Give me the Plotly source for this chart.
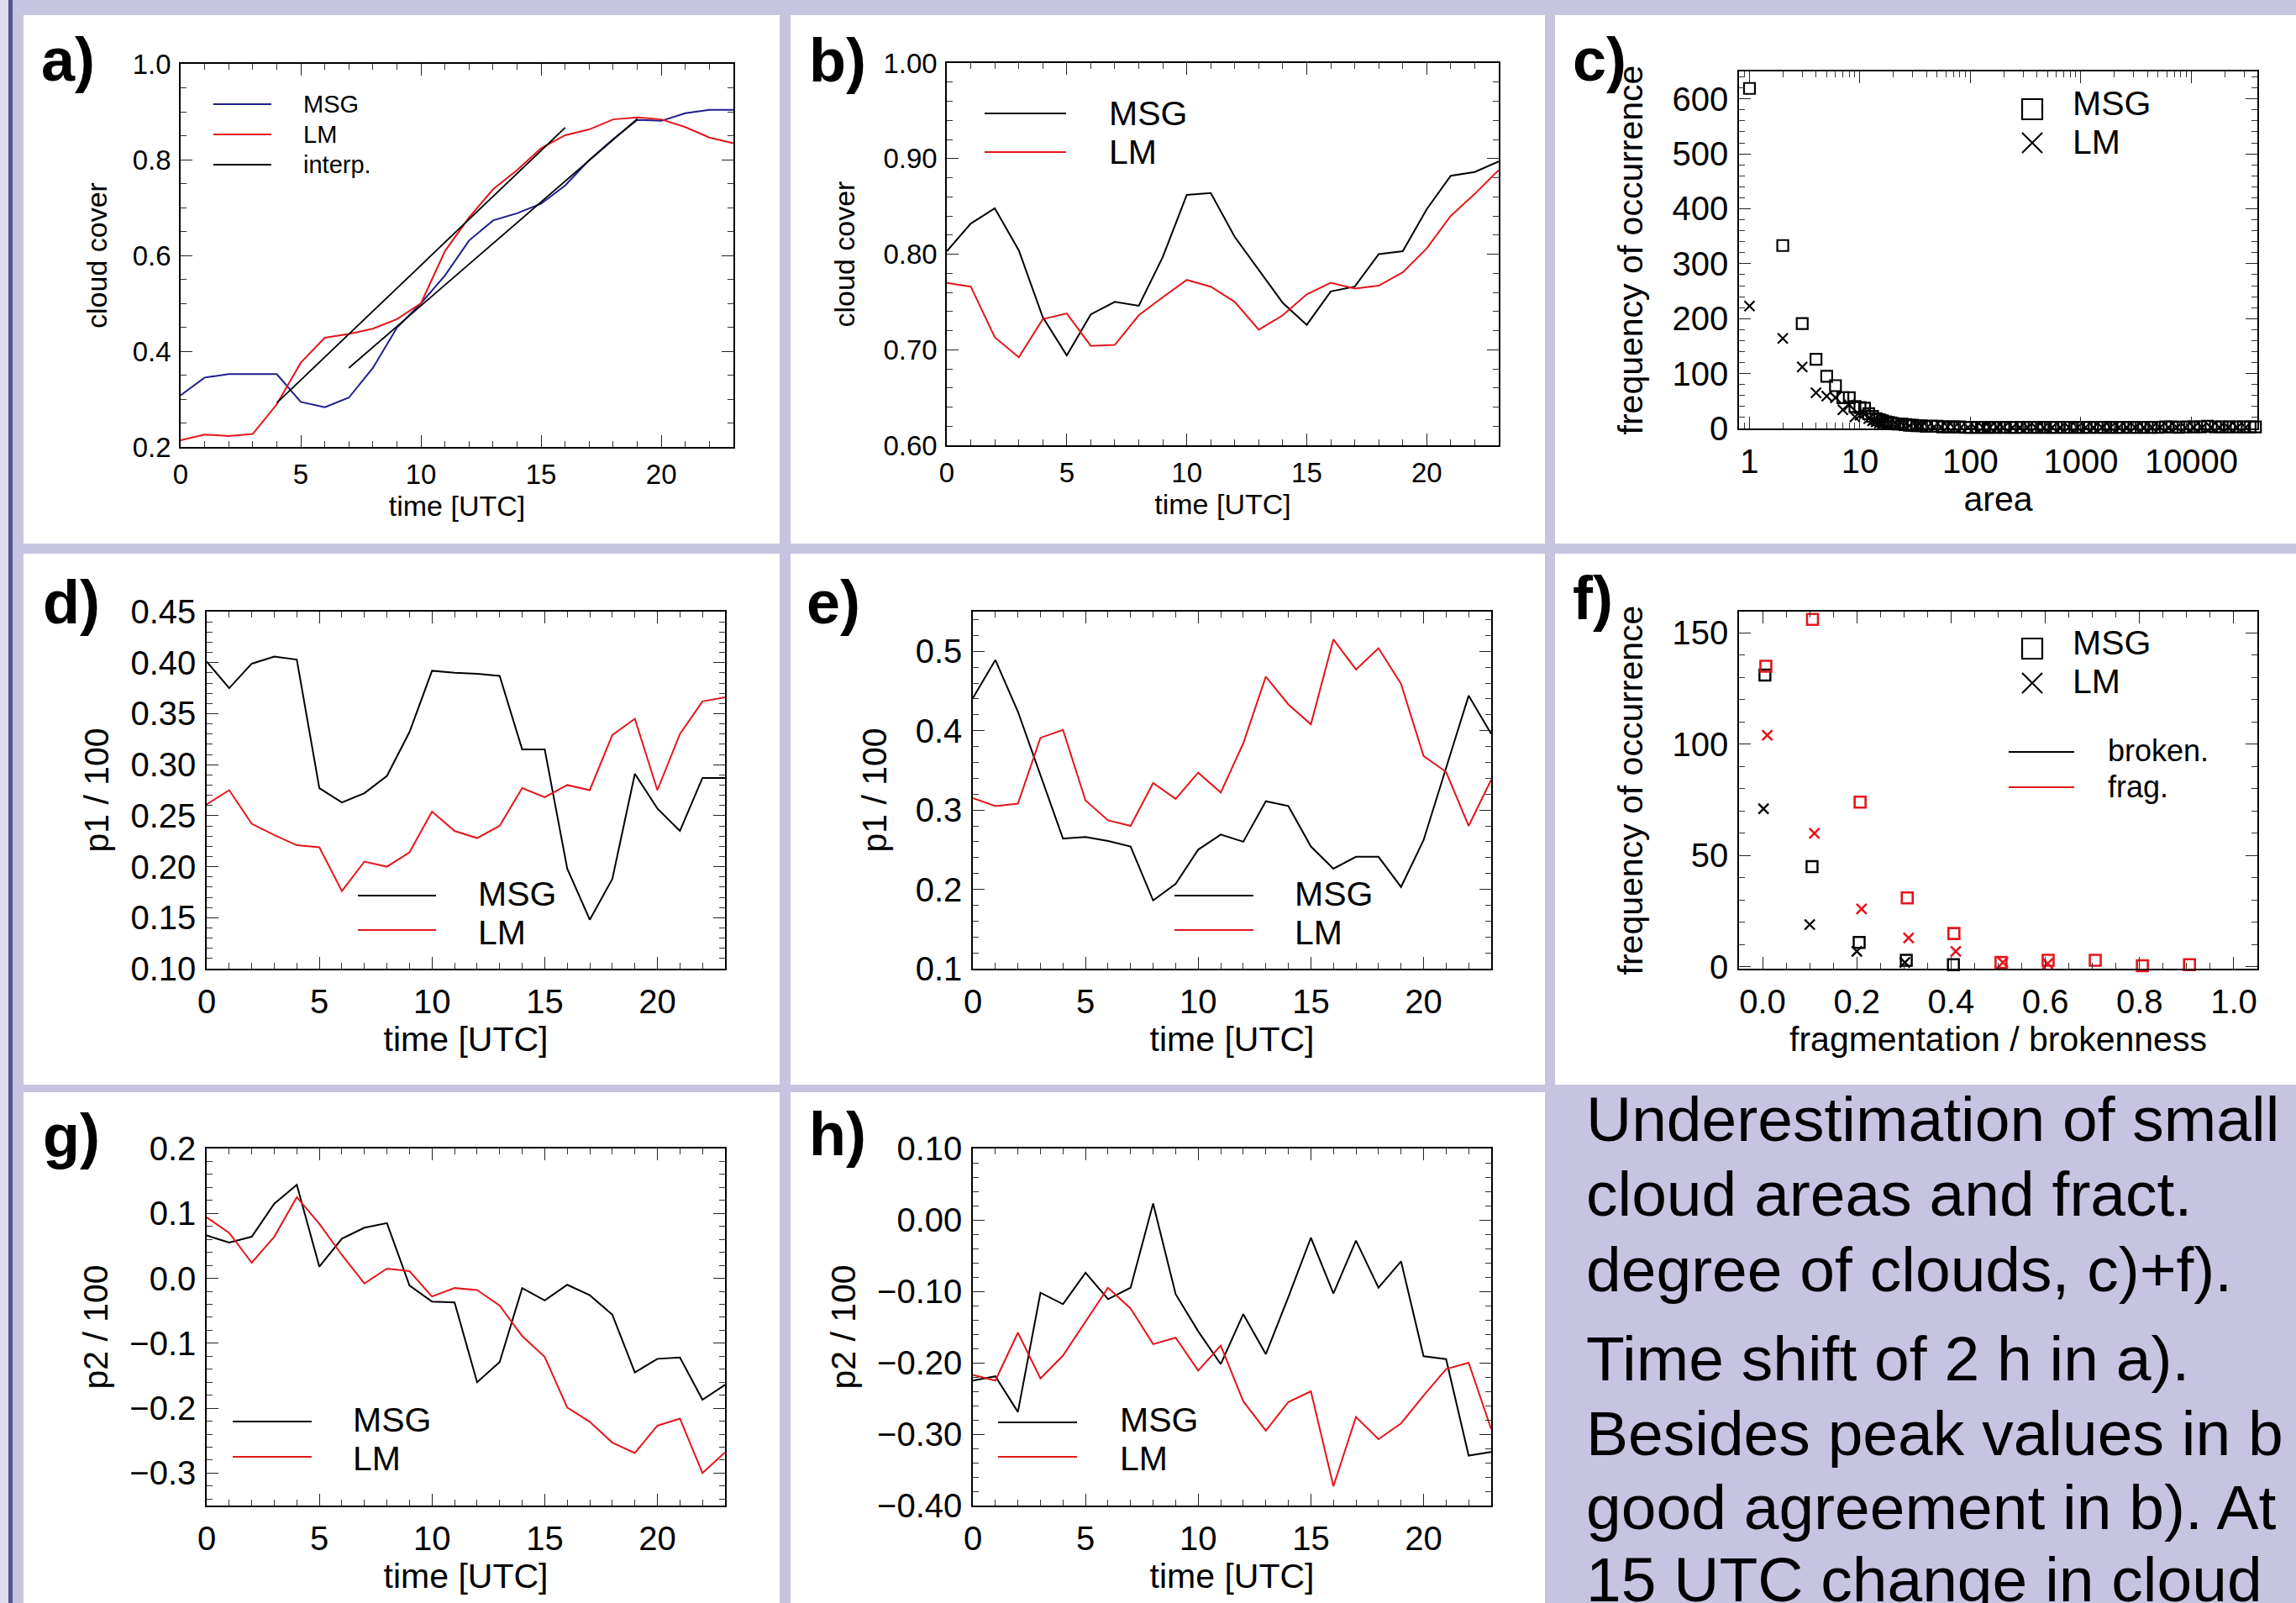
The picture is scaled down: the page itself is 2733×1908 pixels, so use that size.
import plotly.graph_objects as go

W, H = 2733, 1908
BG = "#C7C4E2"
RED = "#E3161B"
NAVY = "#1E1E8C"
FONT = "Liberation Sans, Arial, Helvetica, sans-serif"

# ---------------- data ----------------
HOURS = [0, 1, 2, 3, 4, 5, 6, 7, 8, 9, 10, 11, 12, 13, 14, 15, 16, 17, 18, 19, 20, 21, 22, 23]

A_MSG = [0.308, 0.345, 0.352, 0.352, 0.352, 0.294, 0.283, 0.303, 0.365, 0.449, 0.500, 0.558,
         0.631, 0.673, 0.688, 0.708, 0.746, 0.799, 0.843, 0.883, 0.881, 0.897, 0.904, 0.904]
A_LM = [0.214, 0.226, 0.223, 0.227, 0.289, 0.376, 0.428, 0.436, 0.447, 0.467, 0.500, 0.609,
        0.679, 0.738, 0.778, 0.824, 0.851, 0.863, 0.884, 0.888, 0.884, 0.868, 0.846, 0.834]
A_INTERP1_X = [4, 16]
A_INTERP1_Y = [0.292, 0.867]
A_INTERP2_X = [7, 19]
A_INTERP2_Y = [0.365, 0.885]

B_MSG = [0.803, 0.832, 0.848, 0.804, 0.734, 0.694, 0.737, 0.750, 0.746, 0.797, 0.862, 0.864,
         0.818, 0.783, 0.749, 0.726, 0.761, 0.766, 0.800, 0.803, 0.847, 0.882, 0.886, 0.897]
B_LM = [0.770, 0.766, 0.713, 0.692, 0.732, 0.738, 0.704, 0.705, 0.736, 0.755, 0.773, 0.766,
        0.750, 0.721, 0.736, 0.758, 0.770, 0.764, 0.767, 0.781, 0.806, 0.840, 0.863, 0.888]

C_MSG_AREA = [1, 2, 3, 4, 5, 6, 7, 8, 9, 10, 11, 12, 13, 14, 15, 16, 17, 18, 19, 20, 22, 24, 26,
              28, 30, 33, 36, 40, 45, 50, 56, 63, 70, 80, 90, 100, 115, 130, 150, 170, 200, 230,
              260, 300, 350, 400, 460, 530, 600, 700, 800, 920, 1050, 1200, 1400, 1600, 1850,
              2100, 2400, 2800, 3200, 3700, 4300, 5000, 5800, 6700, 7700, 9000, 10500, 12000,
              14000, 16500, 19000, 22000, 25500, 29500, 34000, 38000]
C_MSG_FREQ = [619, 333, 191, 126, 95, 78, 56, 56, 40, 38, 37, 27, 22, 18, 16, 14, 12, 11, 10, 9,
              8, 8, 7, 6, 6, 5, 5, 4, 4, 4, 3, 3, 3, 3, 2, 2, 2, 2, 2, 2, 2, 2, 2, 2, 2, 2, 2, 2,
              2, 2, 2, 2, 2, 2, 2, 2, 2, 2, 2, 2, 2, 2, 2, 2, 3, 3, 2, 3, 3, 3, 4, 3, 3, 3, 3,
              3, 3, 3]
C_LM_AREA = [1, 2, 3, 4, 5, 6, 7, 8, 9, 10, 11, 12, 13, 14, 15, 16, 18, 20, 22, 25, 28, 32, 36,
             41, 47, 54, 62, 71, 82, 95, 110, 130, 150, 175, 200, 240, 280, 330, 390, 460, 550,
             650, 780, 930, 1100, 1300, 1550, 1850, 2200, 2600, 3100, 3700, 4400, 5200, 6200,
             7400, 8800, 10500, 12500, 15000, 18000, 21500, 26000, 31000]
C_LM_FREQ = [223, 164, 112, 65, 59, 56, 34, 43, 21, 24, 27, 18, 14, 12, 10, 9, 8, 7, 6, 5, 5, 4,
             4, 3, 3, 3, 3, 2, 2, 2, 2, 2, 2, 2, 2, 2, 2, 2, 2, 2, 2, 2, 2, 2, 2, 2, 2, 2, 2, 2,
             2, 2, 2, 2, 2, 2, 2, 2, 2, 2, 2, 2, 2, 2]

D_MSG = [0.401, 0.375, 0.399, 0.406, 0.403, 0.277, 0.263, 0.272, 0.289, 0.332, 0.392, 0.390,
         0.389, 0.387, 0.315, 0.315, 0.198, 0.148, 0.188, 0.291, 0.257, 0.235, 0.287, 0.287]
D_LM = [0.261, 0.275, 0.242, 0.231, 0.221, 0.219, 0.176, 0.205, 0.200, 0.214, 0.254, 0.235,
        0.228, 0.240, 0.277, 0.268, 0.280, 0.275, 0.329, 0.345, 0.275, 0.330, 0.362, 0.366]

E_MSG = [0.441, 0.489, 0.424, 0.344, 0.264, 0.266, 0.261, 0.254, 0.186, 0.207, 0.250, 0.269,
         0.260, 0.311, 0.305, 0.254, 0.226, 0.241, 0.241, 0.203, 0.262, 0.353, 0.444, 0.396]
E_LM = [0.315, 0.305, 0.308, 0.391, 0.401, 0.312, 0.287, 0.280, 0.334, 0.314, 0.347, 0.322,
        0.384, 0.468, 0.433, 0.408, 0.515, 0.477, 0.504, 0.459, 0.368, 0.348, 0.280, 0.338]

F_MSG_BROKEN_X = [0.005, 0.105, 0.205, 0.305, 0.405]
F_MSG_BROKEN_Y = [131, 45, 11, 3, 1]
F_LM_BROKEN_X = [0.002, 0.100, 0.200, 0.302]
F_LM_BROKEN_Y = [71, 19, 7, 2]
F_MSG_FRAG_X = [0.007, 0.106, 0.207, 0.307, 0.406, 0.506, 0.606, 0.706, 0.806, 0.906]
F_MSG_FRAG_Y = [135, 156, 74, 31, 15, 2, 3, 3, 0.5, 1]
F_LM_FRAG_X = [0.010, 0.110, 0.210, 0.310, 0.410, 0.510, 0.605]
F_LM_FRAG_Y = [104, 60, 26, 13, 7, 2, 1.5]

G_MSG = [0.066, 0.055, 0.064, 0.115, 0.144, 0.018, 0.061, 0.078, 0.085, -0.011, -0.036, -0.037,
         -0.160, -0.129, -0.015, -0.034, -0.010, -0.026, -0.056, -0.145, -0.124, -0.122, -0.187, -0.164]
G_LM = [0.094, 0.070, 0.024, 0.064, 0.125, 0.084, 0.036, -0.008, 0.015, 0.011, -0.028, -0.015,
        -0.018, -0.042, -0.089, -0.121, -0.199, -0.221, -0.253, -0.269, -0.227, -0.216, -0.300, -0.268]

H_MSG = [-0.225, -0.219, -0.269, -0.102, -0.118, -0.074, -0.111, -0.095, 0.023, -0.104, -0.156, -0.202,
         -0.132, -0.188, -0.108, -0.025, -0.103, -0.029, -0.095, -0.058, -0.191, -0.195, -0.330, -0.325]
H_LM = [-0.217, -0.225, -0.158, -0.222, -0.190, -0.142, -0.095, -0.124, -0.174, -0.165, -0.211, -0.176,
        -0.254, -0.295, -0.255, -0.240, -0.373, -0.276, -0.307, -0.285, -0.246, -0.209, -0.200, -0.293]

TEXT_LINES = ["Underestimation of small", "cloud areas and fract.", "degree of clouds, c)+f).",
              "Time shift of 2 h in a).", "Besides peak values in b", "good agreement in b). At",
              "15 UTC change in cloud"]

# ---------------- layout helpers (pixel -> paper) ----------------
def px(x):
    return x / W


def py(y):
    return 1 - y / H


# plot-area frames in pixels: (x0, x1, ytop, ybottom)
FRAMES = {
    "a": (215, 873, 76, 532), "b": (1127, 1784, 75, 530), "c": (2070, 2687, 85, 510),
    "d": (246, 863, 728, 1153), "e": (1158, 1775, 728, 1153), "f": (2070, 2687, 728, 1153),
    "g": (246, 863, 1367, 1792), "h": (1158, 1775, 1367, 1792),
}
ORDER = ["a", "b", "c", "d", "e", "f", "g", "h"]

fig = go.Figure()


def ax_ids(key):
    n = ORDER.index(key) + 1
    return ("x" if n == 1 else f"x{n}"), ("y" if n == 1 else f"y{n}")


def add_line(key, x, y, color, width=2.0):
    xa, ya = ax_ids(key)
    fig.add_trace(go.Scatter(x=x, y=y, mode="lines", line=dict(color=color, width=width),
                             xaxis=xa, yaxis=ya, showlegend=False, hoverinfo="skip"))


def add_markers(key, x, y, symbol, color, size, lw):
    xa, ya = ax_ids(key)
    fig.add_trace(go.Scatter(x=x, y=y, mode="markers",
                             marker=dict(symbol=symbol, size=size, color=color,
                                         line=dict(color=color, width=lw)),
                             xaxis=xa, yaxis=ya, showlegend=False, hoverinfo="skip",
                             cliponaxis=False))


add_line("a", HOURS, A_MSG, NAVY)
add_line("a", HOURS, A_LM, RED)
add_line("a", A_INTERP1_X, A_INTERP1_Y, "black", 1.8)
add_line("a", A_INTERP2_X, A_INTERP2_Y, "black", 1.8)
add_line("b", HOURS, B_MSG, "black")
add_line("b", HOURS, B_LM, RED)
add_markers("c", C_MSG_AREA, C_MSG_FREQ, "square-open", "black", 13, 2.2)
add_markers("c", C_LM_AREA, C_LM_FREQ, "x-thin", "black", 12, 2.2)
add_line("d", HOURS, D_MSG, "black")
add_line("d", HOURS, D_LM, RED)
add_line("e", HOURS, E_MSG, "black")
add_line("e", HOURS, E_LM, RED)
add_markers("f", F_MSG_BROKEN_X, F_MSG_BROKEN_Y, "square-open", "black", 13, 2.4)
add_markers("f", F_LM_BROKEN_X, F_LM_BROKEN_Y, "x-thin", "black", 12, 2.4)
add_markers("f", F_MSG_FRAG_X, F_MSG_FRAG_Y, "square-open", RED, 13, 2.6)
add_markers("f", F_LM_FRAG_X, F_LM_FRAG_Y, "x-thin", RED, 12, 2.6)
add_line("g", HOURS, G_MSG, "black")
add_line("g", HOURS, G_LM, RED)
add_line("h", HOURS, H_MSG, "black")
add_line("h", HOURS, H_LM, RED)


def minor_style():
    return dict(ticks="inside", ticklen=7, tickwidth=1.1, tickcolor="#333333", showgrid=False)


def base_axis(fs):
    return dict(showline=True, linecolor="black", linewidth=1.5, mirror="allticks",
                ticks="inside", ticklen=14, tickwidth=1.3, tickcolor="#222222",
                showgrid=False, zeroline=False, ticklabelstandoff=3, automargin=False,
                tickfont=dict(size=fs, color="black", family=FONT),
                minor=minor_style())


AXES = {
    "a": dict(x=dict(range=[0, 23], dtick=5, minor_dtick=1, title="time [UTC]"),
              y=dict(range=[0.2, 1.0], dtick=0.2, minor_dtick=0.05, fmt=".1f", title="cloud cover"),
              fs=33, tfs=34, xs=6, ys=20),
    "b": dict(x=dict(range=[0, 23], dtick=5, minor_dtick=1, title="time [UTC]"),
              y=dict(range=[0.6, 1.0], dtick=0.1, minor_dtick=0.02, fmt=".2f", title="cloud cover"),
              fs=33, tfs=34, xs=6, ys=24),
    "c": dict(x=dict(range=[-0.095, 4.597], title="area", log=True),
              y=dict(range=[0, 650], dtick=100, minor_dtick=20, fmt="d", title="frequency of occurrence"),
              fs=40, tfs=41, xs=8, ys=22),
    "d": dict(x=dict(range=[0, 23], dtick=5, minor_dtick=1, title="time [UTC]"),
              y=dict(range=[0.10, 0.45], dtick=0.05, minor_dtick=0.01, fmt=".2f", title="p1 / 100"),
              fs=40, tfs=41, xs=10, ys=13),
    "e": dict(x=dict(range=[0, 23], dtick=5, minor_dtick=1, title="time [UTC]"),
              y=dict(range=[0.1, 0.55], dtick=0.1, minor_dtick=0.02, fmt=".1f", title="p1 / 100"),
              fs=40, tfs=41, xs=10, ys=21),
    "f": dict(x=dict(range=[-0.05, 1.05], dtick=0.2, minor_dtick=0.05, fmt=".1f",
                     title="fragmentation / brokenness"),
              y=dict(range=[-0.8, 159.5], dtick=50, minor_dtick=10, fmt="d", title="frequency of occurrence"),
              fs=40, tfs=41, xs=8, ys=22),
    "g": dict(x=dict(range=[0, 23], dtick=5, minor_dtick=1, title="time [UTC]"),
              y=dict(range=[-0.35, 0.2], dtick=0.1, minor_dtick=0.02, fmt=".1f", title="p2 / 100"),
              fs=40, tfs=41, xs=10, ys=13),
    "h": dict(x=dict(range=[0, 23], dtick=5, minor_dtick=1, title="time [UTC]"),
              y=dict(range=[-0.40, 0.10], dtick=0.1, minor_dtick=0.02, fmt=".2f", title="p2 / 100"),
              fs=40, tfs=41, xs=10, ys=13),
}

layout_axes = {}
for key in ORDER:
    x0, x1, yt, yb = FRAMES[key]
    spec = AXES[key]
    n = ORDER.index(key) + 1
    xname = "xaxis" if n == 1 else f"xaxis{n}"
    yname = "yaxis" if n == 1 else f"yaxis{n}"
    xa, ya = ax_ids(key)
    xd = base_axis(spec["fs"])
    xd.update(domain=[px(x0), px(x1)], anchor=ya, range=spec["x"]["range"],
              title=dict(text=spec["x"]["title"], standoff=spec["xs"],
                         font=dict(size=spec["tfs"], color="black", family=FONT)))
    if spec["x"].get("log"):
        xd.update(type="log", dtick=1, tickformat="d")
        xd["minor"]["dtick"] = "D1"
    else:
        xd.update(dtick=spec["x"]["dtick"], tick0=0)
        xd["minor"]["dtick"] = spec["x"]["minor_dtick"]
        if spec["x"].get("fmt"):
            xd["tickformat"] = spec["x"]["fmt"]
    yd = base_axis(spec["fs"])
    yd.update(domain=[py(yb), py(yt)], anchor=xa, range=spec["y"]["range"],
              dtick=spec["y"]["dtick"], tick0=0, tickformat=spec["y"]["fmt"],
              title=dict(text=spec["y"]["title"], standoff=spec["ys"],
                         font=dict(size=spec["tfs"], color="black", family=FONT)))
    yd["minor"]["dtick"] = spec["y"]["minor_dtick"]
    layout_axes[xname] = xd
    layout_axes[yname] = yd

shapes = []
annotations = []

# background panels (white boxes) and left border strip
PANEL_BOXES = [(28, 928, 18, 647), (941, 1839, 18, 647), (1851, 2733, 18, 647),
               (28, 928, 659, 1291), (941, 1839, 659, 1291), (1851, 2733, 659, 1291),
               (28, 928, 1300, 1908), (941, 1839, 1300, 1908)]
for (x0, x1, y0, y1) in PANEL_BOXES:
    shapes.append(dict(type="rect", xref="paper", yref="paper", x0=px(x0), x1=px(x1),
                       y0=py(y1), y1=py(y0), fillcolor="white", line=dict(width=0), layer="below"))
shapes.append(dict(type="rect", xref="paper", yref="paper", x0=0, x1=px(10), y0=0, y1=1,
                   fillcolor="#DEDCEE", line=dict(width=0), layer="below"))
shapes.append(dict(type="rect", xref="paper", yref="paper", x0=px(10), x1=px(15), y0=0, y1=1,
                   fillcolor="#57568A", line=dict(width=0), layer="below"))


def leg_line(x0, x1, y, color, w=1.8):
    shapes.append(dict(type="line", xref="paper", yref="paper", x0=px(x0), x1=px(x1),
                       y0=py(y), y1=py(y), line=dict(color=color, width=w)))


def leg_text(x, y, text, size):
    annotations.append(dict(xref="paper", yref="paper", x=px(x), y=py(y), text=text,
                            showarrow=False, xanchor="left", yanchor="middle", borderpad=0,
                            font=dict(size=size, color="black", family=FONT)))


def leg_square(cx, cy, r=12):
    shapes.append(dict(type="rect", xref="paper", yref="paper", x0=px(cx - r), x1=px(cx + r),
                       y0=py(cy + r), y1=py(cy - r), line=dict(color="black", width=2.2)))


def leg_cross(cx, cy, r=12):
    shapes.append(dict(type="line", xref="paper", yref="paper", x0=px(cx - r), x1=px(cx + r),
                       y0=py(cy + r), y1=py(cy - r), line=dict(color="black", width=2.2)))
    shapes.append(dict(type="line", xref="paper", yref="paper", x0=px(cx - r), x1=px(cx + r),
                       y0=py(cy - r), y1=py(cy + r), line=dict(color="black", width=2.2)))


LFS = 41
# panel a legend
leg_line(254, 323, 124, NAVY); leg_text(360, 124, "MSG", 29)
leg_line(254, 323, 160, RED); leg_text(360, 160, "LM", 29)
leg_line(254, 323, 196, "black"); leg_text(360, 196, "interp.", 29)
# panel b
leg_line(1172, 1269, 135, "black"); leg_text(1319, 135, "MSG", LFS)
leg_line(1172, 1269, 181, RED); leg_text(1319, 181, "LM", LFS)
# panel c
leg_square(2419, 130); leg_text(2466, 123, "MSG", LFS)
leg_cross(2419, 170); leg_text(2466, 169, "LM", LFS)
# panel d, e
leg_line(426, 519, 1066, "black"); leg_text(568, 1064, "MSG", LFS)
leg_line(426, 519, 1107, RED); leg_text(568, 1110, "LM", LFS)
leg_line(1398, 1492, 1066, "black"); leg_text(1540, 1064, "MSG", LFS)
leg_line(1398, 1492, 1107, RED); leg_text(1540, 1110, "LM", LFS)
# panel f
leg_square(2419, 772); leg_text(2466, 765, "MSG", LFS)
leg_cross(2419, 813); leg_text(2466, 811, "LM", LFS)
leg_line(2391, 2469, 895, "black", 2.2); leg_text(2508, 893, "broken.", 36)
leg_line(2391, 2469, 937, RED, 2.2); leg_text(2508, 936, "frag.", 36)
# panel g, h
leg_line(277, 371, 1692, "black"); leg_text(419, 1690, "MSG", LFS)
leg_line(277, 371, 1734, RED); leg_text(419, 1736, "LM", LFS)
leg_line(1188, 1282, 1693, "black"); leg_text(1332, 1690, "MSG", LFS)
leg_line(1188, 1282, 1734, RED); leg_text(1332, 1736, "LM", LFS)

# panel letters
LETTERS = {"a": (47, 71), "b": (961, 72), "c": (1870, 71), "d": (49, 717), "e": (958, 717),
           "f": (1870, 712), "g": (49, 1352), "h": (961, 1350)}
for k, (x, y) in LETTERS.items():
    annotations.append(dict(xref="paper", yref="paper", x=px(x), y=py(y), text=f"<b>{k})</b>",
                            showarrow=False, xanchor="left", yanchor="middle",
                            font=dict(size=72, color="black", family=FONT)))

# text block
TEXT_Y = [1332, 1421, 1511, 1617, 1706, 1794, 1880]
for t, y in zip(TEXT_LINES, TEXT_Y):
    annotations.append(dict(xref="paper", yref="paper", x=px(1886), y=py(y), text=t,
                            showarrow=False, xanchor="left", yanchor="middle",
                            font=dict(size=75, color="black", family=FONT)))

fig.update_layout(width=W, height=H, margin=dict(l=0, r=0, t=0, b=0, pad=0, autoexpand=False),
                  paper_bgcolor=BG, plot_bgcolor="white", showlegend=False,
                  font=dict(family=FONT, color="black"),
                  shapes=shapes, annotations=annotations, **layout_axes)

fig.write_html("out.html", config={"displayModeBar": False},
               post_script="document.body.style.margin='0px';document.body.style.overflow='hidden';")
